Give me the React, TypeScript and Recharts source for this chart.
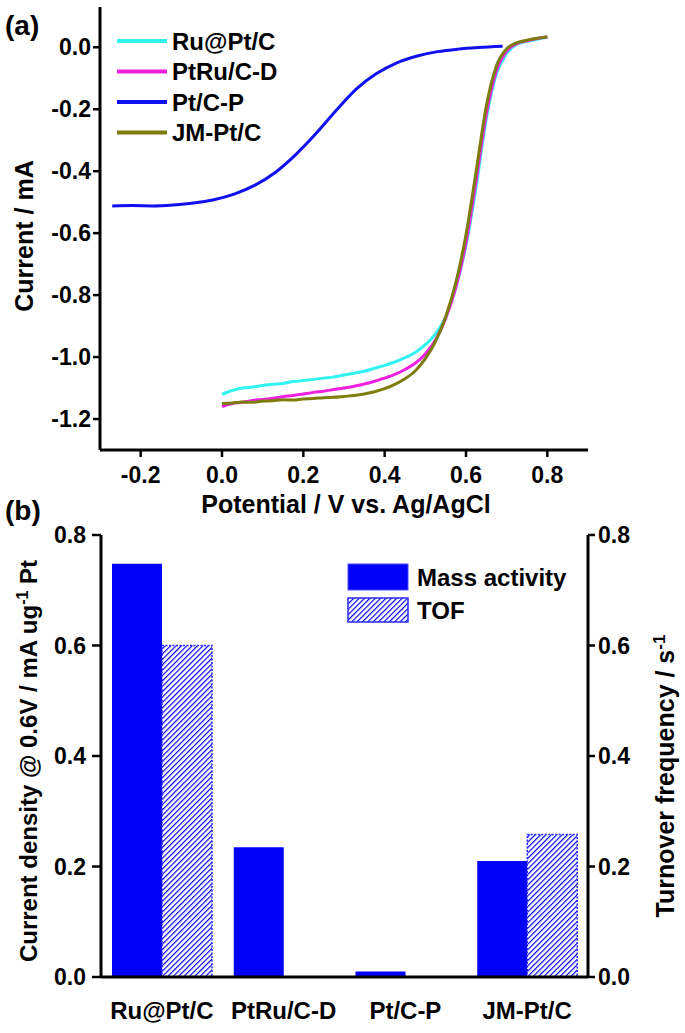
import React from 'react'
import { Bar, BarChart, Line, LineChart, XAxis, YAxis } from 'recharts'

const FONT = '"Liberation Sans", Arial, Helvetica, sans-serif'

// panel (a): polarization curves
const potentialGrid = [
  0.0, 0.025, 0.05, 0.075, 0.1, 0.125, 0.15, 0.175, 0.2, 0.225, 0.25, 0.275, 0.3, 0.325, 0.35, 0.375, 0.4,
  0.425, 0.45, 0.475, 0.5, 0.525, 0.55, 0.575, 0.6, 0.625, 0.65, 0.675, 0.7, 0.725, 0.75, 0.775, 0.8,
]
const ruPtCurrent = [
  -1.12, -1.108, -1.1, -1.097, -1.092, -1.088, -1.085, -1.079, -1.076, -1.072, -1.068, -1.064, -1.058, -1.052,
  -1.046, -1.036, -1.027, -1.016, -1.002, -0.985, -0.96, -0.925, -0.87, -0.775, -0.64, -0.45, -0.23, -0.085,
  -0.02, 0.01, 0.019, 0.026, 0.032,
]
const ptRuCurrent = [
  -1.16, -1.15, -1.146, -1.14, -1.137, -1.133, -1.128, -1.124, -1.119, -1.114, -1.11, -1.105, -1.1, -1.094,
  -1.087, -1.078, -1.068, -1.056, -1.04, -1.02, -0.99, -0.945, -0.875, -0.775, -0.63, -0.43, -0.215, -0.075,
  -0.012, 0.012, 0.021, 0.028, 0.033,
]
const jmPtCurrent = [
  -1.15, -1.148, -1.145, -1.146, -1.142, -1.141, -1.138, -1.139, -1.135, -1.134, -1.131, -1.13, -1.127, -1.124,
  -1.119, -1.112, -1.102, -1.088, -1.07, -1.045, -1.005, -0.95, -0.87, -0.76, -0.605, -0.4, -0.19, -0.06,
  -0.005, 0.015, 0.023, 0.029, 0.034,
]
const ptCPotential = [
  -0.27, -0.22, -0.17, -0.12, -0.07, -0.02, 0.03, 0.08, 0.13, 0.18, 0.23, 0.28, 0.33, 0.38, 0.43, 0.48, 0.53,
  0.58, 0.63, 0.69,
]
const ptCCurrent = [
  -0.512, -0.511, -0.512, -0.509, -0.503, -0.492, -0.474, -0.446, -0.405, -0.348, -0.28, -0.205, -0.135,
  -0.085, -0.05, -0.028, -0.014, -0.006, -0.001, 0.003,
]
const potentialTicks = [-0.2, 0, 0.2, 0.4, 0.6, 0.8]
const currentTicks = [0, -0.2, -0.4, -0.6, -0.8, -1.0, -1.2]

// panel (b): activity bars
const catalysts = ['Ru@Pt/C', 'PtRu/C-D', 'Pt/C-P', 'JM-Pt/C']
const massActivity = [0.748, 0.235, 0.01, 0.21]
const turnover = [0.6, null, null, 0.258]
const activityTicks = [0, 0.2, 0.4, 0.6, 0.8]

const toPoints = (v: number[], i: number[]) => v.map((x, k) => ({ v: x, i: i[k] }))

const curves = [
  { name: 'Ru@Pt/C', color: '#33f2f2', data: toPoints(potentialGrid, ruPtCurrent) },
  { name: 'PtRu/C-D', color: '#f020e0', data: toPoints(potentialGrid, ptRuCurrent) },
  { name: 'Pt/C-P', color: '#1010f0', data: toPoints(ptCPotential, ptCCurrent) },
  { name: 'JM-Pt/C', color: '#7d7d0c', data: toPoints(potentialGrid, jmPtCurrent) },
]

const barData = catalysts.map((name, k) => ({ name, mass: massActivity[k], tof: turnover[k] }))

const fmt = (v: number) => v.toFixed(1)
const tickStyle = { fill: '#000', fontSize: 23, fontWeight: 700, fontFamily: FONT }
const catTickStyle = { ...tickStyle, fontSize: 24 }
const axisLine = { stroke: '#000', strokeWidth: 3 }
const tickLine = { stroke: '#000', strokeWidth: 2.5 }
const BLUE = '#0000fa'

function Hatch({ id }: { id: string }) {
  return (
    <pattern id={id} patternUnits="userSpaceOnUse" width={3.8} height={3.8} patternTransform="rotate(45)">
      <rect width={3.8} height={3.8} fill="#fff" />
      <line x1={0} y1={0} x2={0} y2={3.8} stroke={BLUE} strokeWidth={2.4} />
    </pattern>
  )
}

function Overlay() {
  return (
    <svg
      width={685}
      height={1033}
      style={{ position: 'absolute', left: 0, top: 0, pointerEvents: 'none' }}
      fontFamily={FONT}
      fontWeight="bold"
    >
      <defs>
        <Hatch id="hatchLegend" />
      </defs>
      <text x={5} y={35} fontSize={28}>(a)</text>
      <text x={5} y={520} fontSize={28}>(b)</text>

      {curves.map((c, k) => (
        <g key={c.name} transform={`translate(117, ${41 + k * 30.5})`}>
          <line x1={0} y1={0} x2={50} y2={0} stroke={c.color} strokeWidth={4} />
          <text x={55} y={0} fontSize={24} dominantBaseline="central">{c.name}</text>
        </g>
      ))}

      <text x={346} y={513} fontSize={25} textAnchor="middle">Potential / V vs. Ag/AgCl</text>
      <text transform="translate(33, 236) rotate(-90)" fontSize={25} textAnchor="middle">Current / mA</text>
      <text transform="translate(37, 761) rotate(-90)" fontSize={24} textAnchor="middle">
        Current density @ 0.6V / mA ug<tspan dy={-9} fontSize={16}>-1</tspan>
        <tspan dy={9}> Pt</tspan>
      </text>
      <text transform="translate(674, 776) rotate(-90)" fontSize={25} textAnchor="middle">
        Turnover frequency / s<tspan dy={-9} fontSize={17}>-1</tspan>
      </text>

      <rect x={348} y={564} width={60} height={26} fill={BLUE} stroke="#4a4aff" strokeWidth={1} />
      <text x={417} y={577} fontSize={24} dominantBaseline="central">Mass activity</text>
      <rect x={348} y={598} width={60} height={24} fill="url(#hatchLegend)" stroke="#2a2aff" strokeWidth={1.5} />
      <text x={417} y={610} fontSize={24} dominantBaseline="central">TOF</text>
    </svg>
  )
}

export default function App() {
  return (
    <div style={{ position: 'absolute', left: 0, top: 0, width: 685, height: 1033, background: '#fff', fontFamily: FONT }}>
      <div style={{ position: 'absolute', left: 0, top: 0 }}>
        <LineChart width={685} height={530} margin={{ top: 7, right: 97, bottom: 0, left: 0 }}>
          <XAxis
            dataKey="v"
            type="number"
            domain={[-0.3, 0.9]}
            ticks={potentialTicks}
            allowDataOverflow
            tickFormatter={fmt}
            height={80}
            tickSize={7}
            tickMargin={10}
            axisLine={axisLine}
            tickLine={tickLine}
            tick={tickStyle}
          />
          <XAxis xAxisId="top" orientation="top" dataKey="v" type="number" domain={[-0.3, 0.9]} allowDataOverflow height={0} tick={false} tickLine={false} axisLine={axisLine} />
          <YAxis
            type="number"
            domain={[-1.3, 0.13]}
            ticks={currentTicks}
            allowDataOverflow
            tickFormatter={fmt}
            width={100}
            tickSize={7}
            tickMargin={2}
            axisLine={axisLine}
            tickLine={tickLine}
            tick={tickStyle}
          />
          <YAxis yAxisId="right" orientation="right" type="number" domain={[-1.3, 0.13]} allowDataOverflow width={0} tick={false} tickLine={false} axisLine={axisLine} />
          {curves.map((c) => (
            <Line
              key={c.name}
              data={c.data}
              dataKey="i"
              type="monotone"
              stroke={c.color}
              strokeWidth={3}
              dot={false}
              isAnimationActive={false}
            />
          ))}
        </LineChart>
      </div>

      <div style={{ position: 'absolute', left: 0, top: 520 }}>
        <BarChart width={685} height={513} data={barData} barGap={0} margin={{ top: 15, right: 0, bottom: 0, left: 0 }}>
          <defs>
            <Hatch id="hatch" />
          </defs>
          <XAxis dataKey="name" height={56} tickSize={7} tickMargin={18} tickLine={false} axisLine={axisLine} tick={catTickStyle} />
          <XAxis xAxisId="top" orientation="top" dataKey="name" height={0} tick={false} tickLine={false} axisLine={axisLine} />
          <YAxis
            yAxisId="left"
            domain={[0, 0.8]}
            ticks={activityTicks}
            allowDataOverflow
            tickFormatter={fmt}
            width={101}
            tickSize={9}
            tickMargin={6}
            axisLine={axisLine}
            tickLine={tickLine}
            tick={tickStyle}
          />
          <YAxis
            yAxisId="right"
            orientation="right"
            domain={[0, 0.8]}
            ticks={activityTicks}
            allowDataOverflow
            tickFormatter={fmt}
            width={97}
            tickSize={7}
            tickMargin={3}
            axisLine={axisLine}
            tickLine={tickLine}
            tick={tickStyle}
          />
          <Bar yAxisId="left" dataKey="mass" fill={BLUE} barSize={50} isAnimationActive={false} />
          <Bar
            yAxisId="right"
            dataKey="tof"
            fill="url(#hatch)"
            stroke="#2a2aff"
            strokeWidth={1.5}
            strokeDasharray="2 1.5"
            barSize={50}
            isAnimationActive={false}
          />
        </BarChart>
      </div>

      <Overlay />
    </div>
  )
}
